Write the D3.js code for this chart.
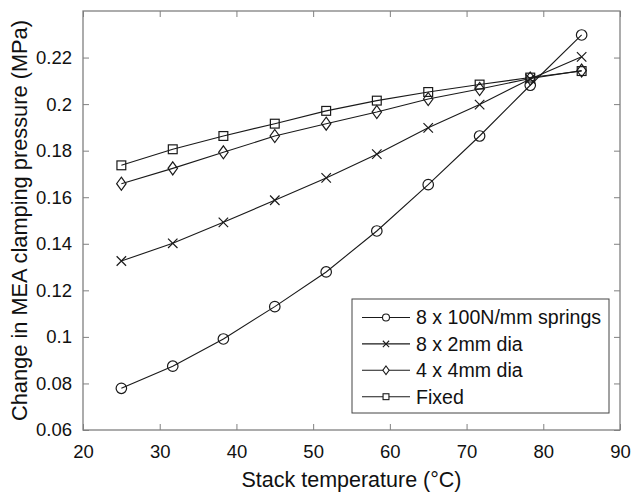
<!DOCTYPE html>
<html>
<head>
<meta charset="utf-8">
<script src="https://cdn.jsdelivr.net/npm/d3@7"></script>
<style>
  body { margin: 0; background: #fff; }
  text { font-family: "Liberation Sans", Arial, sans-serif; fill: #111; }
</style>
</head>
<body>
<div class="chart"></div>
<script>
// stack temperature (°C)
var temps = [25, 31.7, 38.3, 45, 51.7, 58.3, 65, 71.7, 78.3, 85];

// change in clamping pressure (MPa) per design
var springs = [0.0779, 0.0874, 0.0991, 0.1130, 0.1279, 0.1455, 0.1654, 0.1863, 0.2081, 0.2297];
var dia2mm  = [0.1326, 0.1402, 0.1492, 0.1587, 0.1683, 0.1785, 0.1898, 0.1998, 0.2108, 0.2203];
var dia4mm  = [0.1658, 0.1724, 0.1793, 0.1863, 0.1916, 0.1966, 0.2022, 0.2065, 0.2110, 0.2144];
var fixed   = [0.1737, 0.1806, 0.1863, 0.1916, 0.1971, 0.2015, 0.2052, 0.2084, 0.2114, 0.2142];

var seriesNames = ['8 x 100N/mm springs', '8 x 2mm dia', '4 x 4mm dia', 'Fixed'];
var seriesMarks = ['circle', 'cross', 'diamond', 'square'];

var xTicks = [20, 30, 40, 50, 60, 70, 80, 90];
var yTicks = [0.06, 0.08, 0.1, 0.12, 0.14, 0.16, 0.18, 0.2, 0.22];

var W = 633, H = 493;
var pLeft = 83, pTop = 11, pRight = 620, pBottom = 430;

var svg = d3.select('.chart').append('svg')
    .attr('width', W).attr('height', H);

var x = d3.scaleLinear().domain([20, 90]).range([pLeft, pRight]);
var y = d3.scaleLinear().domain([0.06, 0.24]).range([pBottom, pTop]);

var axisCol = '#808080';

// axes box with inward ticks on all sides
function styleAxis(g) {
  g.select('.domain').remove();
  g.selectAll('.tick line').attr('stroke', axisCol);
  g.selectAll('.tick text').style('font-size', '18.5px');
}

svg.append('g').attr('transform', 'translate(0,' + pBottom + ')')
  .call(d3.axisBottom(x).tickValues(xTicks).tickSize(-6).tickPadding(15).tickFormat(d3.format('d')))
  .call(styleAxis);
svg.append('g').attr('transform', 'translate(0,' + pTop + ')')
  .call(d3.axisTop(x).tickValues(xTicks).tickSize(-6).tickFormat(''))
  .call(styleAxis);
svg.append('g').attr('transform', 'translate(' + pLeft + ',0)')
  .call(d3.axisLeft(y).tickValues(yTicks).tickSize(-6).tickPadding(11).tickFormat(d3.format('~g')))
  .call(styleAxis);
svg.append('g').attr('transform', 'translate(' + pRight + ',0)')
  .call(d3.axisRight(y).tickValues(yTicks).tickSize(-6).tickFormat(''))
  .call(styleAxis);

svg.selectAll('.tick text').style('fill', '#111');

svg.append('rect')
  .attr('x', pLeft).attr('y', pTop)
  .attr('width', pRight - pLeft).attr('height', pBottom - pTop)
  .attr('fill', 'none').attr('stroke', axisCol).attr('stroke-width', 1.3);

// axis titles
svg.append('text')
  .attr('x', (pLeft + pRight) / 2).attr('y', 487)
  .attr('text-anchor', 'middle').style('font-size', '21.5px')
  .text('Stack temperature (°C)');

svg.append('text')
  .attr('transform', 'translate(27,' + (pTop + pBottom) / 2 + ') rotate(-90)')
  .attr('text-anchor', 'middle').style('font-size', '21.8px')
  .text('Change in MEA clamping pressure (MPa)');

// marker shapes
function drawMark(g, kind, s) {
  if (kind === 'circle') {
    g.append('circle').attr('r', s * 0.5);
  } else if (kind === 'cross') {
    var h = s * 0.45;
    g.append('path').attr('d', 'M' + -h + ',' + -h + 'L' + h + ',' + h + 'M' + -h + ',' + h + 'L' + h + ',' + -h);
  } else if (kind === 'diamond') {
    var w = s * 0.45, hh = s * 0.62;
    g.append('path').attr('d', 'M0,' + -hh + 'L' + w + ',0L0,' + hh + 'L' + -w + ',0Z');
  } else {
    var q = s * 0.42;
    g.append('rect').attr('x', -q).attr('y', -q).attr('width', 2 * q).attr('height', 2 * q);
  }
}

var lineCol = '#1a1a1a';
var allSeries = [springs, dia2mm, dia4mm, fixed];

var line = d3.line()
  .x(function (d) { return x(d[0]); })
  .y(function (d) { return y(d[1]); });

allSeries.forEach(function (vals, i) {
  var pts = temps.map(function (t, j) { return [t, vals[j]]; });
  var g = svg.append('g').attr('class', 'series-' + i);
  g.append('path').datum(pts)
    .attr('d', line)
    .attr('fill', 'none').attr('stroke', lineCol).attr('stroke-width', 1.1);
  g.selectAll('.mk').data(pts).enter().append('g')
    .attr('class', 'mk')
    .attr('transform', function (d) { return 'translate(' + x(d[0]) + ',' + y(d[1]) + ')'; })
    .each(function () { drawMark(d3.select(this), seriesMarks[i], 10.5); })
    .selectAll('circle,path,rect')
    .attr('fill', 'none').attr('stroke', lineCol).attr('stroke-width', 1.2);
});

// legend
var lg = svg.append('g');
lg.append('rect')
  .attr('x', 352).attr('y', 299).attr('width', 257).attr('height', 114)
  .attr('fill', '#fff').attr('stroke', '#444').attr('stroke-width', 1);

seriesNames.forEach(function (name, i) {
  var ly = 317.5 + i * 26.4;
  lg.append('line')
    .attr('x1', 362).attr('x2', 410).attr('y1', ly).attr('y2', ly)
    .attr('stroke', lineCol).attr('stroke-width', 1.1);
  var m = lg.append('g').attr('transform', 'translate(386,' + ly + ')');
  drawMark(m, seriesMarks[i], 7);
  m.selectAll('circle,path,rect').attr('fill', '#fff').attr('stroke', lineCol).attr('stroke-width', 1.1);
  lg.append('text')
    .attr('x', 416).attr('y', ly).attr('dy', '0.35em')
    .style('font-size', '19.6px')
    .text(name);
});
</script>
</body>
</html>
